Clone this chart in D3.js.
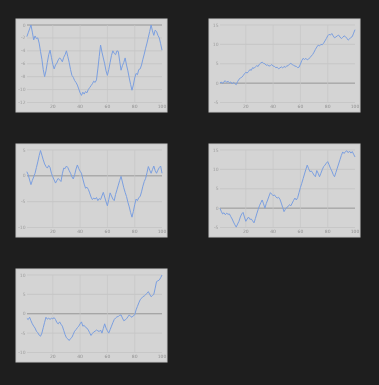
<!DOCTYPE html>
<html>
<head>
<meta charset="utf-8">
<script src="https://cdn.jsdelivr.net/npm/d3@7"></script>
<style>
  html, body { margin: 0; padding: 0; background: #1e1e1e; }
  svg { display: block; }
</style>
</head>
<body>
<div id="chart"></div>
<script>
const WIDTH = 379, HEIGHT = 385

// x positions 1..100 for every walk
const steps = d3.range(1, 101)
const xTicks = [20, 40, 60, 80, 100]

const walk1 = [-1.8,-1.2,-0.6,0.0,-1.1,-2.3,-1.7,-2.1,-2.0,-2.8,-4.1,-5.3,-6.9,-8.0,-7.1,-5.8,-4.6,-3.9,-5.0,-6.1,
  -6.8,-6.2,-5.9,-5.4,-5.1,-5.3,-5.7,-5.0,-4.6,-4.0,-4.9,-5.8,-6.9,-7.8,-8.1,-8.6,-8.9,-9.3,-9.9,-10.5,
  -10.9,-10.4,-10.7,-10.3,-10.5,-10.0,-9.7,-9.4,-9.1,-8.7,-8.9,-8.5,-6.8,-4.9,-3.1,-4.2,-5.1,-6.0,-7.1,-7.8,
  -6.9,-5.8,-4.7,-4.0,-4.4,-4.6,-4.0,-4.1,-5.6,-7.0,-6.3,-5.8,-5.1,-6.2,-7.1,-8.2,-9.2,-10.1,-9.3,-8.2,
  -7.5,-7.7,-6.9,-6.8,-6.2,-5.3,-4.5,-3.6,-2.8,-1.9,-1.0,0.0,-0.9,-1.6,-0.8,-1.0,-1.6,-2.0,-2.9,-3.9]
const walk2 = [0.0,0.3,-0.1,0.4,0.6,0.2,0.5,0.1,0.3,-0.2,0.2,-0.1,-0.4,0.4,1.0,1.3,1.5,1.9,2.4,2.8,
  2.6,3.0,3.5,3.3,4.0,3.8,4.2,4.5,4.3,4.9,5.2,5.4,5.1,5.0,4.6,4.7,4.4,4.5,4.8,4.4,
  4.3,4.0,4.1,3.7,3.9,4.2,3.9,4.3,4.1,4.4,4.5,4.9,5.1,4.8,4.6,4.4,4.3,4.0,4.1,4.9,
  5.8,6.4,6.1,6.4,6.0,6.2,6.6,7.0,7.4,8.0,8.7,9.3,9.8,9.6,10.0,9.9,10.3,10.9,11.5,12.2,
  12.6,12.4,12.8,12.2,11.7,11.9,12.2,12.4,11.9,11.5,11.8,12.2,12.0,11.6,11.1,11.4,11.8,12.0,12.9,13.8]
const walk3 = [0.8,0.2,-0.8,-1.7,-0.9,-0.2,0.5,1.6,2.7,3.9,4.9,4.0,3.1,2.3,1.8,1.5,2.0,1.6,0.5,-0.2,
  -0.8,-1.4,-0.9,-0.5,-0.8,-1.1,0.4,1.5,1.4,1.9,1.6,1.0,0.5,-0.2,-0.6,0.2,1.3,2.1,1.4,0.9,
  0.5,-0.6,-1.6,-2.4,-2.2,-2.6,-3.3,-4.1,-4.6,-4.3,-4.5,-4.2,-4.8,-4.4,-4.6,-3.9,-3.2,-4.1,-5.0,-5.8,
  -4.6,-3.3,-3.9,-4.5,-4.8,-3.6,-2.7,-1.8,-0.9,-0.1,-1.2,-2.3,-3.2,-4.0,-5.1,-6.0,-7.1,-8.0,-6.9,-5.6,
  -4.5,-4.8,-4.2,-4.0,-3.1,-2.0,-1.1,-0.5,0.6,1.8,1.1,0.5,1.2,1.9,1.0,0.5,1.1,1.6,1.9,0.5]
const walk4 = [0.0,-0.8,-1.5,-1.2,-1.7,-1.3,-1.6,-1.5,-2.2,-2.8,-3.6,-4.3,-4.9,-4.1,-3.4,-2.3,-1.5,-1.1,-2.3,-3.4,
  -2.8,-2.3,-2.9,-2.8,-3.3,-3.8,-2.7,-1.5,-0.4,0.6,1.4,2.1,1.1,0.0,1.2,2.1,3.1,4.0,3.6,3.2,
  3.4,2.9,2.6,2.8,2.3,1.3,0.2,-0.9,-0.3,0.2,0.4,0.9,0.6,1.3,2.0,2.6,2.1,2.7,4.0,5.3,
  6.4,7.6,8.8,10.0,11.1,10.2,9.4,9.6,9.1,8.5,8.1,9.7,9.0,8.1,9.0,9.9,10.7,11.1,11.6,12.0,
  11.2,10.3,9.6,8.7,8.1,9.2,10.3,11.4,12.5,13.6,14.5,14.1,14.6,14.8,14.3,14.7,14.2,14.6,13.9,13.2]
const walk5 = [-1.2,-1.5,-0.9,-1.8,-2.6,-3.2,-3.7,-4.5,-4.9,-5.5,-5.8,-5.0,-3.6,-2.2,-0.9,-1.4,-1.1,-1.5,-1.1,-1.3,
  -1.0,-1.5,-2.3,-2.6,-2.1,-2.7,-3.2,-4.3,-5.4,-6.2,-6.5,-6.9,-6.4,-6.1,-5.3,-4.5,-4.1,-3.6,-3.2,-2.6,
  -2.1,-3.2,-3.0,-3.5,-3.7,-4.2,-4.9,-5.6,-5.1,-4.7,-4.5,-4.2,-4.4,-4.6,-4.2,-5.0,-3.8,-2.6,-3.7,-4.4,
  -5.0,-4.1,-3.2,-2.3,-1.5,-1.1,-0.8,-0.7,-0.4,-0.3,-1.1,-1.8,-1.6,-1.3,-0.8,-0.3,-0.7,-0.9,-0.5,-0.3,
  1.0,1.9,2.8,3.6,4.0,4.4,4.6,4.9,5.3,5.7,5.0,4.4,4.7,5.0,6.6,8.3,8.5,8.7,9.3,10.0]

const yTicks1 = [-12, -10, -8, -6, -4, -2, 0]
const yTicks2 = [-5, 0, 5, 10, 15]
const yTicks3 = [-10, -5, 0, 5]
const yTicks4 = [-5, 0, 5, 10, 15]
const yTicks5 = [-10, -5, 0, 5, 10]

const panels = [
  {values: walk1, ticks: yTicks1, col: 0, row: 0},
  {values: walk2, ticks: yTicks2, col: 1, row: 0},
  {values: walk3, ticks: yTicks3, col: 0, row: 1},
  {values: walk4, ticks: yTicks4, col: 1, row: 1},
  {values: walk5, ticks: yTicks5, col: 0, row: 2}
]

const BOX_W = 151, BOX_H = 93
const colX = [16, 209], rowY = [19, 144, 269]
const LEFT = 9.5, RIGHT = 5, TOP = 6, BOTTOM = 9.5

const svg = d3.select('#chart').append('svg').attr('width', WIDTH).attr('height', HEIGHT)
svg.append('rect').attr('width', WIDTH).attr('height', HEIGHT).attr('fill', '#1e1e1e')

const blur = svg.append('defs').append('filter').attr('id', 'soft')
blur.append('feGaussianBlur').attr('stdDeviation', 0.6)

panels.forEach(p => {
  const g = svg.append('g')
    .attr('transform', 'translate(' + colX[p.col] + ',' + rowY[p.row] + ')')
    .attr('filter', 'url(#soft)')

  g.append('rect').attr('width', BOX_W).attr('height', BOX_H)
    .attr('fill', '#d4d4d4').attr('stroke', '#c6c6c6').attr('stroke-width', 1)

  const x = d3.scaleLinear().domain([0, 100]).range([LEFT, BOX_W - RIGHT])
  const y = d3.scaleLinear().domain(d3.extent(p.ticks)).range([BOX_H - BOTTOM, TOP])

  // grid
  g.selectAll('.hgrid').data(p.ticks).enter().append('line')
    .attr('x1', x(0) + 1.5).attr('x2', x(100))
    .attr('y1', d => y(d)).attr('y2', d => y(d))
    .attr('stroke', d => d === 0 ? '#8e8e8e' : '#c2c2c2').attr('stroke-width', d => d === 0 ? 0.9 : 0.7)
  g.selectAll('.vgrid').data(xTicks.slice(0, -1)).enter().append('line')
    .attr('x1', d => x(d)).attr('x2', d => x(d))
    .attr('y1', y.range()[1]).attr('y2', y.range()[0])
    .attr('stroke', '#c6c6c6').attr('stroke-width', 0.7)

  // tick labels
  g.selectAll('.ylab').data(p.ticks).enter().append('text')
    .attr('x', x(0)).attr('y', d => y(d) + 1.5)
    .attr('text-anchor', 'end').attr('font-family', 'DejaVu Sans').attr('font-size', 4.5)
    .attr('fill', '#a0a0a0').text(d => d)
  g.selectAll('.xlab').data(xTicks).enter().append('text')
    .attr('x', d => x(d)).attr('y', BOX_H - 4.5)
    .attr('text-anchor', 'middle').attr('font-family', 'DejaVu Sans').attr('font-size', 4.5)
    .attr('fill', '#909090').text(d => d)

  const line = d3.line().x((d, i) => x(steps[i])).y(d => y(d))
  g.append('path').datum(p.values).attr('d', line)
    .attr('fill', 'none').attr('stroke', '#7b9fe0').attr('stroke-width', 1)
})
</script>
</body>
</html>
